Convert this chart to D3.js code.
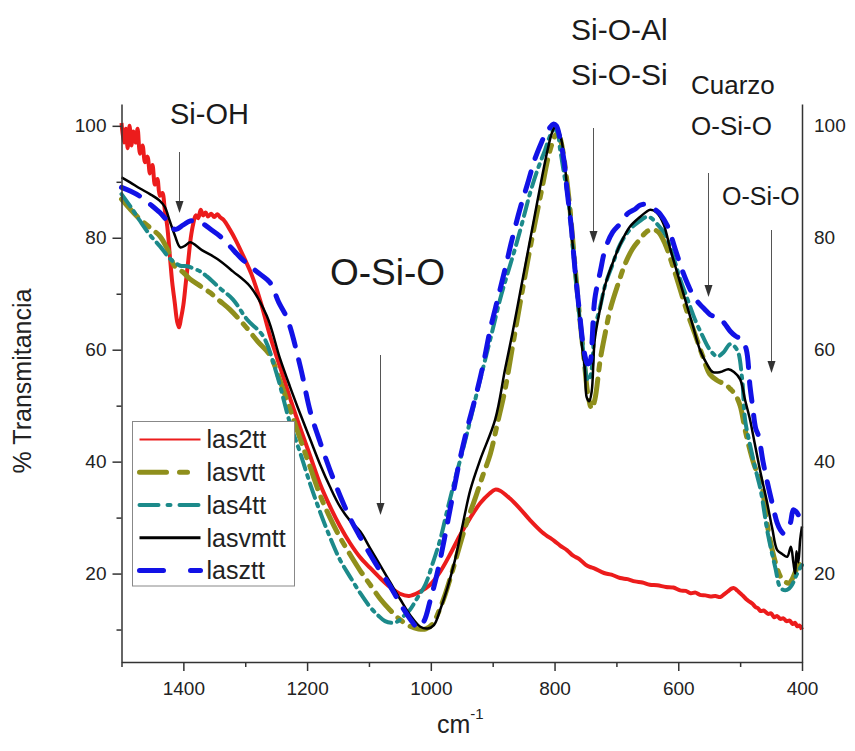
<!DOCTYPE html>
<html>
<head>
<meta charset="utf-8">
<script src="https://cdn.jsdelivr.net/npm/d3@7"></script>
<style>
  body { margin: 0; background: #fff; }
  text { font-family: "Liberation Sans", Arial, sans-serif; }
</style>
</head>
<body>
<div id="chart"></div>
<script>
// wavenumber (cm-1) and % transmittance
const seriesNames = ['las2tt', 'lasvtt', 'las4tt', 'lasvmtt', 'lasztt'];

const las2ttWn = [1500,1496,1493,1490,1487,1484,1481,1477,1474,1470,1466,1462,1458,1454,1450,1446,1442,1438,1434,1430,1426,1422,1418,1414,1410,1407,1404,1400,1396,1392,1388,1384,1380,1376,1372,1368,1364,1360,1355,1350,1345,1340,1335,1325,1315,1300,1290,1275,1260,1244,1228,1211,1195,1179,1163,1147,1131,1115,1098,1082,1066,1050,1035,1020,1001,985,969,953,936,920,905,896,888,872,856,840,820,800,791,780,770,760,750,743,735,720,708,694,682,670,658,646,634,620,608,597,588,580,572,565,556,548,540,532,526,520,514,510,506,503,499,495,490,485,480,475,471,467,462,455,450,445,440,435,430,425,420,415,411,408,404,400];
const las2ttT = [100.5,97,99.5,96,100,96.5,99,97,99.5,95,96.5,93.5,94.5,91.5,93,89.5,90.5,87.5,88,85,82,77,72,68.5,65,64,65.5,68,72,76,80,82.5,84,83.5,85,84,84.5,83.8,84.3,83.7,84.2,83.6,83.2,81.5,79.5,76,73.5,68.5,62.5,57,51.5,46,41,36,32,28.5,25.5,23,21,19.2,17.6,16.4,16,16.6,18,20.3,23.4,26.8,30,32.6,34.3,35,34.8,33.4,31.6,29.6,27.4,25.8,25,24.2,23.2,22.6,21.6,21.2,20.9,20.1,19.8,19.2,19,18.6,18.4,18,17.9,17.6,17.5,17,16.9,16.5,16.6,16.2,16.1,15.9,16,15.8,16.3,16.8,17.3,17.4,17.1,16.8,16.4,16,15.4,15,14.6,14,13.8,13.3,13.4,12.8,12.9,12.2,12.4,11.9,12,11.5,11.6,11,11.2,10.6,10.7,10];

const lasvttWn = [1500,1485,1470,1454,1438,1426,1414,1400,1389,1373,1357,1341,1325,1300,1280,1260,1244,1228,1211,1195,1179,1163,1147,1131,1114,1098,1082,1066,1050,1034,1020,1008,997,988,977,965,953,941,929,916,904,892,880,868,856,844,832,820,811,804,797,792,787,781,775,767,759,752,746,740,735,726,718,710,698,686,674,662,652,642,632,621,609,597,585,573,561,549,537,524,516,508,500,492,484,476,467,455,443,435,427,421,416,410,403,400];
const lasvttT = [86.9,85,83.3,81.8,80.3,78,74.9,73.8,72.6,71.4,70.2,68.7,67.2,64.2,61.5,59,54.5,49.5,44,39,34,30,26.5,23.5,20.5,18,15.5,13.5,11.8,10.6,10.1,10.1,11,13,16.2,20.5,25.1,29.5,33.2,37.5,41.3,47,52.9,60.5,68.1,75.5,82.4,89,94,96.8,98.5,98,95.8,91,85.1,75,65.4,58,52,49.5,51,58.3,63,67.2,71.5,75.3,78,79.7,81,81.5,81,78.8,75,70.8,66.5,62.8,59,55.6,54.5,53.8,53,52,50,45.7,42,39,36.8,28,22,19.5,18.5,18.3,19,20.5,22,22.5];

const las4ttWn = [1500,1485,1470,1454,1438,1421,1405,1394,1373,1362,1341,1320,1297,1271,1250,1228,1211,1195,1179,1163,1147,1131,1114,1098,1085,1074,1062,1053,1043,1034,1022,1009,997,985,973,961,948,936,924,912,900,888,876,864,852,840,828,815,808,802,796,791,784,778,771,764,758,752,748,745,740,735,726,718,706,694,678,662,652,645,633,621,609,597,585,573,561,549,537,527,516,505,497,492,484,476,467,455,443,435,427,421,416,410,403,400];
const las4ttT = [87.8,85.5,83,80.5,78.5,76.2,75,74.9,74,73.1,71,69,65.4,62.4,56,47,41.5,36,31,26.5,22.5,19.5,16.5,14,12.5,11.5,11.2,11.5,12.5,13.5,15.6,18,21.8,26,31.5,36.8,42.2,47.5,53,58.3,63.6,69,73.6,78,82.8,87.8,92,95.8,98,99.3,99,95.8,91,87,79,70.8,64,58.3,55,54.5,56.5,63.5,67.8,71.6,75.3,78.8,81.5,83,83.7,83.6,82.3,80.6,77,72.6,69,65.4,62.5,60,58.8,59.5,61,60,55,47.5,43,39,35,27,21,17.5,17,17.3,18,19.5,21,21.5];

const lasvmttWn = [1500,1486,1470,1454,1438,1430,1422,1414,1405,1397,1389,1370,1345,1320,1292,1265,1244,1228,1211,1195,1179,1163,1147,1131,1114,1098,1082,1066,1050,1033,1017,1005,995,985,973,961,948,936,920,896,880,868,856,844,832,820,811,804,799,794,788,778,770,762,756,751,748,744,740,735,726,718,706,694,678,662,652,645,635,624,613,601,589,577,565,554,544,532,519,510,500,492,484,476,467,457,448,440,432,424,418,414,411,409,406,403,400];
const lasvmttT = [90.8,89.9,88.8,87.8,86.6,85.5,83,80.5,78.3,78.6,79.2,77.8,76.2,74,71.3,66,58.5,53.5,48.5,44,39.5,35.5,32,29.5,27.5,24.5,21.5,18.5,15.5,12.5,10.5,10.2,10.8,13.5,17.5,22.4,29,35,40.4,47.5,56.5,63,70,77,84,91,95.8,98.8,99.8,99.3,97,87,78,69,61,56.5,51.5,50.8,52.5,61.8,67.5,71.6,75.5,78.8,82,83.7,84.6,85,84.5,82.5,78,73.5,69,64.5,60,57.5,56,56,56.5,56,54.7,51,47.5,43,38,33,28,24.2,23.5,23,24.8,22,20,24,22,26,28.4];

const lasztttWn = [1500,1485,1470,1454,1438,1426,1414,1400,1389,1373,1357,1341,1325,1308,1292,1276,1260,1246,1232,1211,1195,1179,1163,1147,1131,1114,1098,1082,1066,1054,1042,1031,1021,1011,1001,993,985,977,969,961,953,941,929,916,904,892,880,868,856,844,832,822,815,808,802,797,791,785,780,773,767,760,754,750,747,743,740,735,726,718,706,694,682,670,662,654,645,637,629,617,605,593,581,573,565,557,549,541,532,524,516,508,500,497,490,484,480,475,470,463,456,448,440,435,430,425,419,414,409,404,400];
const lasztttT = [89,88.3,87.4,86,84.5,83,81.5,82.3,83,82.8,81.6,80.3,78.5,76.5,74.9,73.5,72,68.5,65.5,57,49,43.5,38.5,34,30,26.5,23.4,20.5,17.8,15.5,13.3,11.5,10.3,11.5,15.2,18.5,22.4,26.8,31.4,36,40.4,46,51,57,63.6,69,74.4,80,85.1,89.5,94,96.8,98.5,99.6,100.3,100,97.6,94,88.7,82,74.4,67,61,58.5,57.5,57.7,60.5,69,74,78,81,82.5,84.3,85.1,85.8,86,85.6,85,84.2,82,78,74,70.8,69.2,68.1,67.2,66.3,65.9,65.5,64.5,63.3,62.5,62,61.8,60,53.4,50,46,44.5,40,36.3,32.5,29,27.8,27.2,28,29,31.4,31,30.2,30,30];

const xTicksMajor = [1400, 1200, 1000, 800, 600, 400];
const xTicksMinor = [1500, 1300, 1100, 900, 700, 500];
const yTicksMajor = [20, 40, 60, 80, 100];
const yTicksMinor = [10, 30, 50, 70, 90];

// band annotations: label lines, wavenumber of arrow
const bandLabels = [
  {lines: ['Si-OH'], wn: 1407},
  {lines: ['O-Si-O'], wn: 1082},
  {lines: ['Si-O-Al', 'Si-O-Si'], wn: 738},
  {lines: ['Cuarzo', 'O-Si-O'], wn: 552},
  {lines: ['O-Si-O'], wn: 450}
];

// styles
const styles = {
  las2tt:  {color: '#ec1c1c', width: 4,   dash: null,          legendDash: null,      legendWidth: 2},
  lasvtt:  {color: '#8f8f1c', width: 5,   dash: '24,9,6,9',    legendDash: '27,13,8,20', legendWidth: 5},
  las4tt:  {color: '#1c8a8a', width: 4,   dash: '15,6,3,6',    legendDash: '19,9,3,9', legendWidth: 4},
  lasvmtt: {color: '#000000', width: 2.5, dash: null,          legendDash: null,      legendWidth: 3},
  lasztt:  {color: '#1212e6', width: 5,   dash: '20,14',       legendDash: '24,27',   legendWidth: 5}
};
const annotLayout = [
  {size: 29, x: 170, y: [124], ax: [152, 213]},
  {size: 37, x: 330, y: [285], ax: [355, 515]},
  {size: 30, x: 571, y: [40, 85], ax: [128, 243]},
  {size: 26, x: 691, y: [94, 135], ax: [173, 297]},
  {size: 25, x: 722, y: [205], ax: [230, 373]}
];

const width = 855, height = 751;
const svg = d3.select('#chart').append('svg')
  .attr('width', width)
  .attr('height', height);

const x = d3.scaleLinear().domain([1500, 400]).range([121.5, 802]);
const y = d3.scaleLinear().domain([4.2, 103.9]).range([662, 104]);

const data = {
  las2tt: d3.zip(las2ttWn, las2ttT),
  lasvtt: d3.zip(lasvttWn, lasvttT),
  las4tt: d3.zip(las4ttWn, las4ttT),
  lasvmtt: d3.zip(lasvmttWn, lasvmttT),
  lasztt: d3.zip(lasztttWn, lasztttT)
};

const line = d3.line()
  .x(d => x(d[0]))
  .y(d => y(d[1]))
  .curve(d3.curveCatmullRom.alpha(0.5));

// spectra
const plot = svg.append('g');
seriesNames.forEach(name => {
  const s = styles[name];
  plot.append('path')
    .datum(data[name])
    .attr('d', line)
    .attr('fill', 'none')
    .attr('stroke', s.color)
    .attr('stroke-width', s.width)
    .attr('stroke-linecap', s.dash ? 'round' : 'butt')
    .attr('stroke-linejoin', 'round')
    .attr('stroke-dasharray', s.dash);
});

// axes
const axisColor = '#333';
const fmt = d3.format('d');
const styleAxis = g => {
  g.select('.domain').attr('stroke', axisColor).attr('stroke-width', 1.5);
  g.selectAll('.tick line').attr('stroke', axisColor).attr('stroke-width', 1.5);
  g.selectAll('.tick text')
    .attr('fill', '#222')
    .style('font-size', '19px')
    .style('font-family', '"Liberation Sans", Arial, sans-serif');
};

svg.append('g')
  .attr('transform', `translate(0,${y.range()[0]})`)
  .call(d3.axisBottom(x).tickValues(xTicksMajor).tickFormat(fmt).tickSize(9).tickSizeOuter(0).tickPadding(11))
  .call(styleAxis);
svg.append('g')
  .attr('transform', `translate(0,${y.range()[0]})`)
  .call(d3.axisBottom(x).tickValues(xTicksMinor).tickSize(5).tickFormat(''))
  .call(g => g.select('.domain').remove())
  .call(styleAxis);

svg.append('g')
  .attr('transform', `translate(${x.range()[0]},0)`)
  .call(d3.axisLeft(y).tickValues(yTicksMajor).tickFormat(fmt).tickSize(9).tickSizeOuter(0).tickPadding(6))
  .call(styleAxis);
svg.append('g')
  .attr('transform', `translate(${x.range()[0]},0)`)
  .call(d3.axisLeft(y).tickValues(yTicksMinor).tickSize(5).tickFormat(''))
  .call(g => g.select('.domain').remove())
  .call(styleAxis);

svg.append('g')
  .attr('transform', `translate(${x.range()[1]},0)`)
  .call(d3.axisRight(y).tickValues(yTicksMajor).tickFormat(fmt).tickSize(0).tickSizeOuter(0).tickPadding(12))
  .call(styleAxis);

// axis titles
const xt = svg.append('text')
  .attr('x', 437)
  .attr('y', 733)
  .style('font-size', '25px')
  .attr('fill', '#222');
xt.append('tspan').text('cm');
xt.append('tspan').attr('dy', -14).style('font-size', '15px').text('-1');

svg.append('text')
  .attr('transform', 'translate(31,381) rotate(-90)')
  .attr('text-anchor', 'middle')
  .style('font-size', '25px')
  .attr('fill', '#222')
  .text('% Transmitancia');

// band annotations with arrows
bandLabels.forEach((b, i) => {
  const L = annotLayout[i];
  b.lines.forEach((t, j) => {
    svg.append('text')
      .attr('x', L.x)
      .attr('y', L.y[j])
      .style('font-size', L.size + 'px')
      .attr('fill', '#1a1a1a')
      .text(t);
  });
  const ax = Math.round(x(b.wn)) + 0.5;
  svg.append('line')
    .attr('x1', ax).attr('x2', ax)
    .attr('y1', L.ax[0]).attr('y2', L.ax[1] - 11)
    .attr('stroke', '#555')
    .attr('stroke-width', 1);
  svg.append('path')
    .attr('d', `M${ax - 4},${L.ax[1] - 12} L${ax + 4},${L.ax[1] - 12} L${ax},${L.ax[1]} Z`)
    .attr('fill', '#333');
});

// legend
const legend = svg.append('g').attr('transform', 'translate(132.5,421.5)');
legend.append('rect')
  .attr('width', 162)
  .attr('height', 164.5)
  .attr('fill', '#fff')
  .attr('stroke', '#888')
  .attr('stroke-width', 1);

const rowY = d3.scalePoint().domain(seriesNames).range([18, 149]);
seriesNames.forEach(name => {
  const s = styles[name];
  const g = legend.append('g').attr('transform', `translate(0,${rowY(name)})`);
  g.append('line')
    .attr('x1', 7).attr('x2', 68)
    .attr('stroke', s.color)
    .attr('stroke-width', s.legendWidth)
    .attr('stroke-linecap', s.legendDash ? 'round' : 'butt')
    .attr('stroke-dasharray', s.legendDash);
  g.append('text')
    .attr('x', 74)
    .attr('dy', '0.35em')
    .style('font-size', '25px')
    .attr('fill', '#222')
    .text(name);
});
</script>
</body>
</html>
